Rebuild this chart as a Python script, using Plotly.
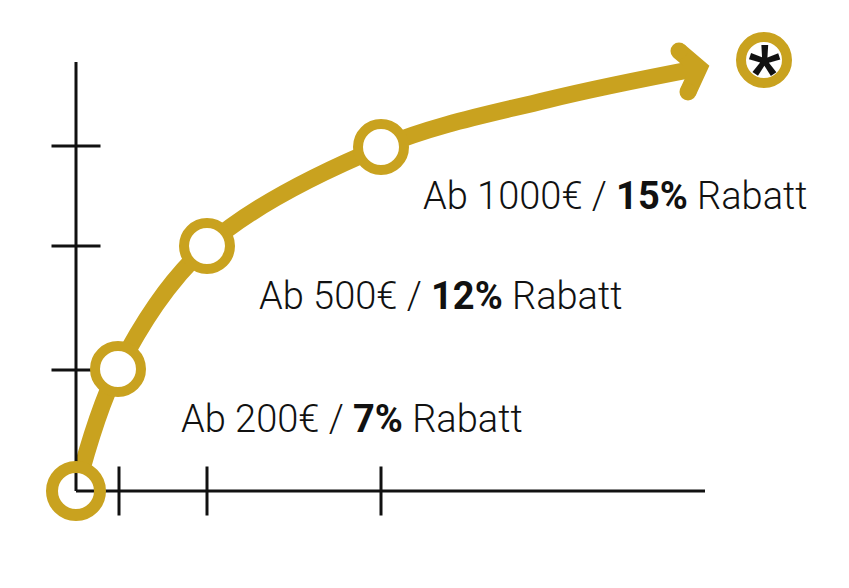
import plotly.graph_objects as go

# ---- data (axis units = pixels from the origin) ----
threshold_labels = ["Ab 200€", "Ab 500€", "Ab 1000€"]
discount_labels = ["7%", "12%", "15%"]
stage_x = [0, 42, 131, 305]          # origin + three discount stages
stage_y = [0, 122, 245, 344]
trend_x = [471, 623]                 # continuation of the curve to the arrow
trend_y = [391, 423]
arrow_x = [603, 623, 612]            # arrow head arms
arrow_y = [440, 423, 399]
tick_x = [43, 131, 305]
tick_y = [121, 245, 345]
axis_x_end = 629
axis_y_end = 429
goal_x = [688]
goal_y = [431]
label_x = [103, 181, 345]
label_y = [72, 195, 295]

GOLD = "#C9A21F"
INK = "#111111"

fig = go.Figure()

# curve
fig.add_trace(go.Scatter(
    x=stage_x + trend_x, y=stage_y + trend_y, mode="lines",
    line=dict(color=GOLD, width=17, shape="spline", smoothing=1.0),
    hoverinfo="skip"))

# white disk at the origin (hides curve start)
fig.add_trace(go.Scatter(
    x=stage_x[:1], y=stage_y[:1], mode="markers",
    marker=dict(size=48, color="white", line=dict(width=0)), hoverinfo="skip"))

# axes
fig.add_trace(go.Scatter(
    x=[0, axis_x_end], y=[0, 0], mode="lines",
    line=dict(color=INK, width=3), hoverinfo="skip"))
fig.add_trace(go.Scatter(
    x=[0, 0], y=[0, axis_y_end], mode="lines",
    line=dict(color=INK, width=3), hoverinfo="skip"))
# ticks crossing the axes
fig.add_trace(go.Scatter(
    x=tick_x, y=[0] * len(tick_x), mode="markers",
    marker=dict(symbol="line-ns", size=35, line=dict(color=INK, width=3)),
    hoverinfo="skip"))
fig.add_trace(go.Scatter(
    x=[0] * len(tick_y), y=tick_y, mode="markers",
    marker=dict(symbol="line-ew", size=35, line=dict(color=INK, width=3)),
    hoverinfo="skip"))

# stage rings
fig.add_trace(go.Scatter(
    x=stage_x[1:], y=stage_y[1:], mode="markers",
    marker=dict(size=46, color="white", line=dict(color=GOLD, width=10)),
    hoverinfo="skip"))
# origin ring (transparent inside)
fig.add_trace(go.Scatter(
    x=stage_x[:1], y=stage_y[:1], mode="markers",
    marker=dict(size=48, color="rgba(0,0,0,0)", line=dict(color=GOLD, width=12)),
    hoverinfo="skip"))

# arrow head
fig.add_trace(go.Scatter(
    x=arrow_x, y=arrow_y, mode="lines",
    line=dict(color=GOLD, width=17),
    hoverinfo="skip"))
fig.add_trace(go.Scatter(
    x=[arrow_x[0], arrow_x[2]], y=[arrow_y[0], arrow_y[2]], mode="markers",
    marker=dict(size=17, color=GOLD, line=dict(width=0)),
    hoverinfo="skip"))

# goal ring with asterisk
fig.add_trace(go.Scatter(
    x=goal_x, y=goal_y, mode="markers",
    marker=dict(size=46, color="white", line=dict(color=GOLD, width=10)),
    hoverinfo="skip"))
fig.add_annotation(
    x=goal_x[0], y=goal_y[0], text="<b>*</b>", showarrow=False,
    xanchor="center", yanchor="middle", yshift=-12,
    font=dict(family="Roboto", size=72, color=INK, weight=900))

# labels
for lab, disc, lx, ly in zip(threshold_labels, discount_labels, label_x, label_y):
    fig.add_annotation(
        x=lx, y=ly, text=f"{lab} / <b>{disc}</b> Rabatt", showarrow=False,
        xanchor="left", yanchor="middle",
        font=dict(family="Roboto", size=38, color=INK, weight=300))

# the page body has an 8px margin; ranges compensate so the marks sit where they should
fig.update_layout(
    width=849, height=588,
    margin=dict(l=0, r=0, t=0, b=0),
    paper_bgcolor="white", plot_bgcolor="white",
    showlegend=False,
    xaxis=dict(range=[-68, 781], visible=False, fixedrange=True),
    yaxis=dict(range=[-105, 483], visible=False, fixedrange=True),
)

fig.write_html("out.html")
